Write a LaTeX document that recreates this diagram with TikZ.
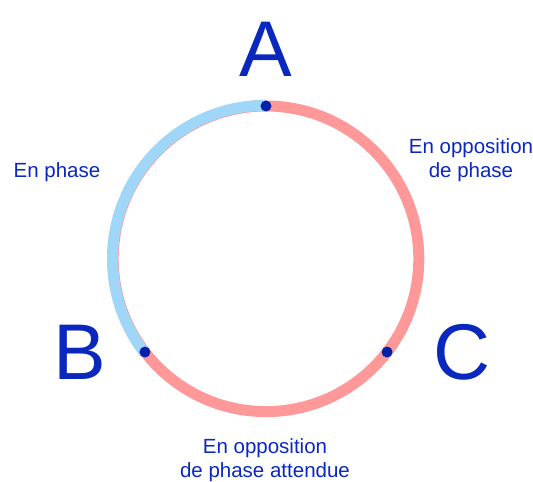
\documentclass[tikz,border=0pt]{standalone}
\usepackage{fontspec}
\setmainfont{Liberation Sans}
\definecolor{txtblue}{RGB}{10,40,190}
\definecolor{dotblue}{RGB}{0,34,170}
\definecolor{arcblue}{RGB}{160,214,248}
\definecolor{arcred}{RGB}{255,153,153}
\begin{document}
\begin{tikzpicture}[x=1pt,y=1pt,
  big/.style={text=txtblue,font=\fontsize{79}{79}\selectfont,inner sep=0pt},
  lbl/.style={text=txtblue,font=\fontsize{20.5}{24}\selectfont,align=center,inner sep=0pt},
  pt/.style={fill=dotblue,circle,inner sep=0pt,minimum size=11pt}]
\useasboundingbox (0,0) rectangle (533,482);
\coordinate (O) at (266,223.2);
\draw[arcred,line width=11pt] (O) circle[radius=152.8];
\draw[arcblue,line width=11pt] ([shift={(90:153.5)}]O) arc[start angle=90,end angle=217.6,radius=153.5];
\node[pt] (pA) at ([shift={(90:152.8)}]O) {};
\node[pt] (pB) at ([shift={(217.6:152.8)}]O) {};
\node[pt] (pC) at ([shift={(-37.6:152.8)}]O) {};
\node[big] (A) at (266,433) {A};
\node[big] (B) at (80,130) {B};
\node[big] (C) at (462,130) {C};
\node[lbl] (l1) at (57,310) {En phase};
\node[lbl] (l2) at (471,322) {En opposition\\de phase};
\node[lbl] (l3) at (265,22) {En opposition\\de phase attendue};
\end{tikzpicture}
\end{document}
